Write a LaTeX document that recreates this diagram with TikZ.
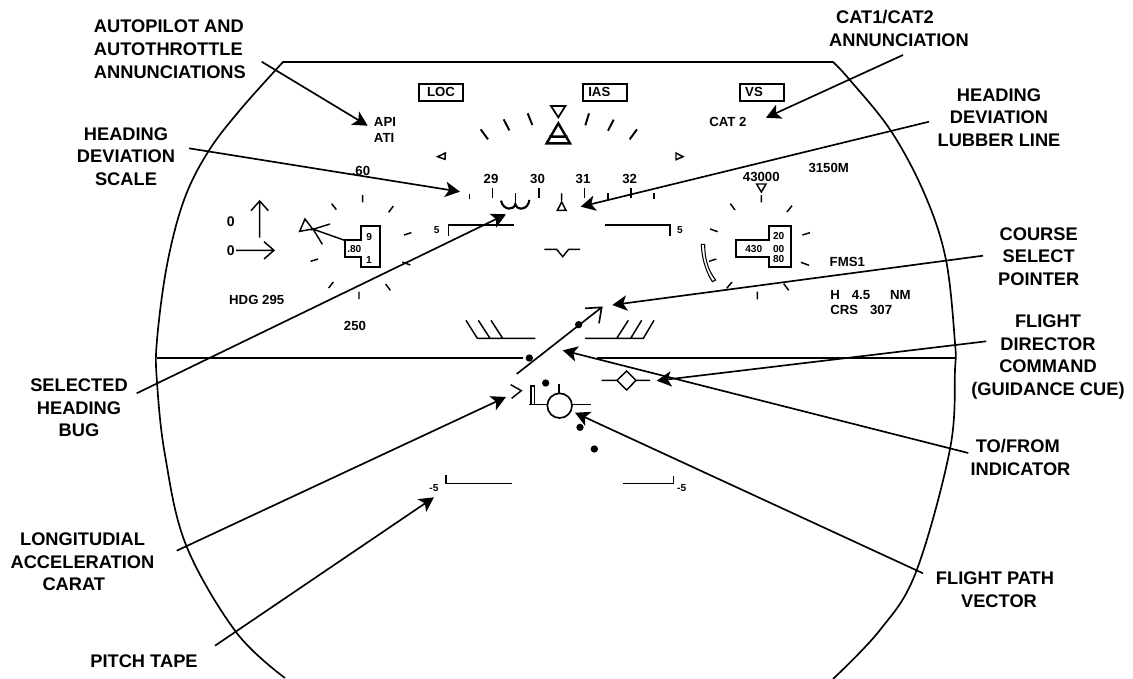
\documentclass[tikz,border=0pt]{standalone}
\usepackage{fontspec}
\setmainfont{Liberation Sans}
\usetikzlibrary{arrows.meta}
\tikzset{
  lab/.style={font=\fontsize{13.7}{17}\selectfont\bfseries,align=center,inner sep=0pt,text=black},
  txt/.style={font=\fontsize{9.9}{12}\selectfont\bfseries,inner sep=0pt,text=black},
  tiny/.style={font=\fontsize{7.6}{9}\selectfont\bfseries,inner sep=0pt,text=black},
  callarrow/.style={line width=1.25pt,-{Stealth[length=11pt,width=11.5pt,inset=2.8pt]}},
  outline/.style={line width=1.25pt},
  sym/.style={line width=1.1pt},
  thick sym/.style={line width=1.45pt},
  dot/.style={fill=black,draw=none}
}
\begin{document}
\begin{tikzpicture}[x=0.75pt,y=-0.75pt]
\useasboundingbox (0,0) rectangle (1133,679);
% display outline
\draw[outline] (285,678) plot[smooth,tension=0.6] coordinates {(285,678) (236,632) (186,545) (165,455) (157,382) (157,340) (167,265) (184,200) (208,152) (240,110) (283,62)} -- (833,62)
  plot[smooth,tension=0.6] coordinates {(833,62) (849,79) (891,131) (925,195) (946,260) (955,343) (955,370) (950,449) (916,572) (880,630) (833,679)};
% labels
\node[lab,align=left,anchor=west] (l1) at (93.7,49.3) {AUTOPILOT AND\\AUTOTHROTTLE\\ANNUNCIATIONS};
\node[lab] (l2) at (126,156.5) {HEADING\\DEVIATION\\SCALE};
\node[lab] (l3) at (79,408) {SELECTED\\HEADING\\BUG};
\node[lab] (l4) at (82.5,562) {LONGITUDIAL\\ACCELERATION\\CARAT\hspace*{13pt}};
\node[lab] (l5) at (144,661) {PITCH TAPE};
\node[lab] (l6) at (899,28.5) {CAT1/CAT2\hspace*{21pt}\\ANNUNCIATION};
\node[lab] (l7) at (999,117.5) {HEADING\\DEVIATION\\LUBBER LINE};
\node[lab] (l8) at (1038.7,256.5) {COURSE\\SELECT\\POINTER};
\node[lab] (l9) at (1048,357) {FLIGHT\\DIRECTOR\\COMMAND\\(GUIDANCE CUE)};
\node[lab] (l10) at (1020.5,457.3) {TO/FROM\hspace*{4pt}\\INDICATOR};
\node[lab] (l11) at (995,589.5) {FLIGHT PATH\\\hspace*{6pt}VECTOR};
% callout arrows
\coordinate (a1s) at (261.7,61.7); \coordinate (a1e) at (367.7,125.7);
\coordinate (a2s) at (189,148.3);  \coordinate (a2e) at (460,191.7);
\coordinate (a3s) at (136.7,393.3);\coordinate (a3e) at (506,214.3);
\coordinate (a4s) at (176.7,550.7);\coordinate (a4e) at (506,397);
\coordinate (a5s) at (215,645.7);  \coordinate (a5e) at (434,497.3);
\coordinate (a6s) at (903,55);     \coordinate (a6e) at (766,117.7);
\coordinate (a7s) at (929,121.7);  \coordinate (a7e) at (580.7,206.7);
\coordinate (a8s) at (983,255.7);  \coordinate (a8e) at (612.3,305);
\coordinate (a9s) at (986.3,341.3);\coordinate (a9e) at (656.7,380.7);
\coordinate (a10s) at (968.3,453); \coordinate (a10e) at (562.7,350.3);
\coordinate (a11s) at (923,573.3); \coordinate (a11e) at (575,412.7);
\foreach \n in {1,...,11} {\draw[callarrow] (a\n s) -- (a\n e);}
% annunciator boxes
\node[draw,line width=1.3pt,minimum width=33pt,minimum height=12.5pt,inner sep=0pt] (b1) at (441.3,92.3) {};
\node[txt] (b1t) at (441,92.3) {LOC};
\node[draw,line width=1.3pt,minimum width=33pt,minimum height=12.5pt,inner sep=0pt] (b2) at (605.2,92.3) {};
\node[txt] (b2t) at (599.3,92.3) {IAS};
\node[draw,line width=1.3pt,minimum width=33pt,minimum height=12.5pt,inner sep=0pt] (b3) at (762,92.3) {};
\node[txt] (b3t) at (754,92.3) {VS};
% texts
\node[txt,anchor=west] (t1) at (373.7,122) {API};
\node[txt,anchor=west] (t2) at (373.7,138.3) {ATI};
\node[txt,anchor=west] (t3) at (709,122.3) {CAT 2};
\node[txt] (t4) at (361,170.5) {.60};
\node[txt] (t5) at (491,179.3) {29};
\node[txt] (t6) at (537.5,179.3) {30};
\node[txt] (t7) at (583,179.3) {31};
\node[txt] (t8) at (629.7,179.3) {32};
\node[txt] (t9) at (761.3,176.7) {43000};
\node[txt] (t10) at (828.7,167.7) {3150M};
\node[txt] (t11) at (847.3,262.3) {FMS1};
\node[txt,anchor=west] (t12) at (830,294.7) {H\hspace{9pt}4.5\hspace{15pt}NM};
\node[txt,anchor=west] (t13) at (830,310.3) {CRS\hspace{9pt}307};
\node[txt] (t14) at (256.7,300.3) {HDG 295};
\node[txt] (t15) at (355,326) {250};
\node[txt,font=\fontsize{10.5}{12}\selectfont\bfseries] (t16) at (230.7,221.7) {0};
\node[txt,font=\fontsize{10.5}{12}\selectfont\bfseries] (t17) at (230.7,250.3) {0};
\node[tiny] (t18) at (436.7,230.3) {5};
\node[tiny] (t19) at (680,230.3) {5};
\node[tiny] (t20) at (434,487.7) {-5};
\node[tiny] (t21) at (681.7,487.7) {-5};
\node[tiny] (t22) at (369.3,236.7) {9};
\node[tiny] (t24) at (354.3,248.7) {.80};
\node[tiny] (t25) at (369,259.7) {1};
\node[tiny] (t26) at (753.7,248.7) {430};
\node[tiny] (t27) at (778.7,236.3) {20};
\node[tiny] (t28) at (778.7,248.7) {00};
\node[tiny] (t29) at (778.7,259.3) {80};
% left-hand part, in crop coordinates
\begin{scope}[shift={(200,60)},x=0.25pt,y=-0.25pt]
\draw[sym] (488,405)--(488,427) (395,431)--(409,449) (580,438)--(566,457) (612,525)--(634,518)
  (332,604)--(354,597) (607,606)--(631,615) (386,684)--(400,666) (477,695)--(477,717) (557,672)--(571,691);
\draw[sym] (179,533)--(179,423) (153,452)--(179,423)--(205,452);
\draw[sym] (108,571)--(222,571) (192,545)--(222,571)--(192,597);
\draw[sym] (315,477)--(299,514)--(338,507)--cycle;
\draw[sym] (434,541)--(338,507) (390,492)--(332,510) (338,505)--(367,553);
\draw[thick sym] (434,541)--(482,541)--(482,499)--(541,499)--(541,621)--(482,621)--(482,590)--(434,590)--cycle;
\draw[sym] (746,527)--(746,495)--(941,495);
\draw[sym] (808,402)--(808,418) (878,385)--(878,415) (946,400)--(946,432) (1017,385)--(1017,415);
\draw[line width=1.6pt] (903,422) .. controls (910,452) and (942,452) .. (946,432) .. controls (950,452) and (984,452) .. (988,420);
\draw[sym] (1033,568)--(1070,568)--(1088,590)--(1106,568)--(1140,568);
\draw[sym] (713,290)--(736,279)--(735,298)--cycle;
\draw[thick sym] (842,208)--(864,238) (911,178)--(928,211) (983,160)--(997,195);
\draw[line width=1.3pt] (1053,138)--(1096,138)--(1075,172)--cycle;
\draw[line width=1.8pt] (1040,250)--(1110,250)--(1075,190)--cycle (1047,230)--(1103,230);
\draw[sym] (1085,400)--(1085,422) (1072,451)--(1098,451)--(1085,426)--cycle;
\end{scope}
% right-hand part
\begin{scope}[shift={(550,60)},x=0.25pt,y=-0.25pt]
\draw[thick sym] (117,160)--(106,196) (191,179)--(174,212) (261,208)--(239,238);
\draw[sym] (378,279)--(399,290)--(378,299)--cycle;
\draw[sym] (104,385)--(104,415) (174,400)--(174,420) (243,385)--(243,415) (312,400)--(312,418);
\draw[sym] (165,495)--(360,495)--(360,527);
\draw[sym] (620,372)--(648,372)--(634,396)--cycle (634,405)--(634,427);
\draw[sym] (541,431)--(555,450) (726,437)--(711,456) (480,507)--(503,515) (757,525)--(780,518)
  (477,604)--(499,597) (753,607)--(777,616) (530,685)--(546,666) (622,695)--(622,718) (701,671)--(716,691);
\draw[thick sym] (557,541)--(657,541)--(657,499)--(723,499)--(723,622)--(657,622)--(657,590)--(557,590)--cycle;
\draw[line width=0.8pt] (454,553)--(464,553) .. controls (464,590) and (472,630) .. (497,660) -- (487,665) .. controls (465,630) and (455,590) .. (454,553) -- cycle;
\end{scope}
% centre
\begin{scope}[shift={(420,290)},x=0.25pt,y=-0.25pt]
\draw[line width=1.25pt] (-790,204)--(310,204) (530,204)--(1605,204);
\draw[line width=1.25pt] (290,252)--(545,52) (495,55)--(545,52)--(537,100);
\fill[dot] (476,104) circle[radius=11] (328,204) circle[radius=11] (377,279) circle[radius=11] (480,412) circle[radius=11] (523,477) circle[radius=11];
\draw[sym] (138,91)--(172,145)--(346,145) (175,91)--(210,145) (213,91)--(248,145);
\draw[sym] (495,145)--(670,145)--(702,91) (590,145)--(625,91) (632,145)--(665,91);
\draw[sym] (545,271)--(591,271) (648,271)--(690,271) (620,243)--(648,271)--(620,300)--(591,271)--cycle;
\draw[sym] (272,284)--(304,302)--(275,325);
\draw[line width=1.25pt] (419,347) circle[radius=37];
\draw[sym] (417,281)--(417,310) (457,343)--(514,343) (328,343)--(381,343);
\draw[line width=0.9pt] (333,343)--(333,288)--(344,288)--(344,343);
\draw[sym] (78,555)--(78,581)--(275,581) (610,581)--(760,581)--(760,557);
\end{scope}
\end{tikzpicture}
\end{document}
